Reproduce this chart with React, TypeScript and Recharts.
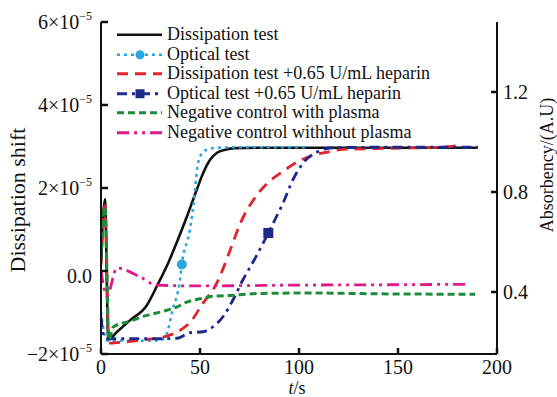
import { Line, LineChart, XAxis, YAxis } from "recharts"

// t (s) and dissipation shift / absorbency
const dissTime = [0, 2, 3.7, 8, 14.6, 23.1, 28.9, 34, 38.2, 43.3, 48.3, 51.5, 55.1, 58.6, 62.6, 67.7, 80, 120, 160, 190]
const dissShift = [0.2e-5, 1.73e-5, -1.65e-5, -1.47e-5, -1.19e-5, -0.83e-5, -0.3e-5, 0.2e-5, 0.68e-5, 1.3e-5, 1.95e-5, 2.35e-5, 2.68e-5, 2.85e-5, 2.92e-5, 2.96e-5, 2.97e-5, 2.97e-5, 2.97e-5, 2.97e-5]

const optTime = [0, 1.5, 3.5, 10, 20, 30, 33, 36.2, 39.9, 40.8, 44.9, 47.4, 48.3, 50, 53.4, 58.4, 70, 90, 105]
const optAbs = [0.32, 0.24, 0.205, 0.205, 0.205, 0.207, 0.229, 0.329, 0.449, 0.51, 0.649, 0.797, 0.877, 0.941, 0.969, 0.977, 0.979, 0.979, 0.979]
const optMarkerAt = 40.8

const hepTime = [0, 2, 4, 9.6, 23.1, 33.2, 39.9, 44.9, 51.5, 58.4, 65.2, 70.2, 73.5, 76.8, 80.2, 83.7, 91.9, 98.8, 107.1, 113.8, 122.2, 151, 171, 182.3]
const hepShift = [0.14e-5, 1.58e-5, -1.74e-5, -1.72e-5, -1.65e-5, -1.57e-5, -1.43e-5, -1.24e-5, -0.78e-5, -0.3e-5, 0.5e-5, 1.13e-5, 1.45e-5, 1.7e-5, 1.92e-5, 2.1e-5, 2.4e-5, 2.62e-5, 2.79e-5, 2.86e-5, 2.93e-5, 2.96e-5, 2.98e-5, 3.04e-5]

const optHepTime = [0, 1.5, 3.5, 10, 20, 30, 38.4, 44.9, 51.5, 56.6, 61.6, 66.7, 71.7, 76.8, 84.5, 87.9, 91.9, 97, 102, 109.1, 117.2, 140, 170, 190.4]
const optHepAbs = [0.3, 0.22, 0.213, 0.213, 0.213, 0.213, 0.215, 0.237, 0.241, 0.261, 0.301, 0.369, 0.449, 0.52, 0.636, 0.69, 0.755, 0.85, 0.915, 0.96, 0.977, 0.979, 0.979, 0.979]
const optHepMarkerAt = 84.5

const negPlasmaTime = [0, 2, 4, 6.2, 14.6, 23.1, 31.5, 38.2, 43.3, 50, 56.6, 65, 81.3, 106.6, 140, 189]
const negPlasmaShift = [0.25e-5, 1.54e-5, -1.65e-5, -1.35e-5, -1.21e-5, -1.07e-5, -0.97e-5, -0.87e-5, -0.75e-5, -0.67e-5, -0.61e-5, -0.59e-5, -0.54e-5, -0.53e-5, -0.55e-5, -0.56e-5]

const negNoPlasmaTime = [0, 3, 8, 19.7, 28, 50, 100, 150, 185]
const negNoPlasmaShift = [0, -0.6e-5, 0.07e-5, -0.14e-5, -0.34e-5, -0.36e-5, -0.34e-5, -0.33e-5, -0.32e-5]

const xTicks = [0, 50, 100, 150, 200]
const leftTicks = [-2e-5, 0, 2e-5, 4e-5, 6e-5]
const rightTicks = [0.4, 0.8, 1.2]

const zip = (t: number[], v: number[]) => t.map((x, i) => ({ t: x, v: v[i] }))

const FONT = "'Liberation Serif', 'Times New Roman', serif"
const INK = "#111"

const series = [
    { name: "Dissipation test", color: "#111111", dash: undefined, width: 2.6, marker: null },
    { name: "Optical test", color: "#2aa6e0", dash: "3 4", width: 2.6, marker: "circle" },
    { name: "Dissipation test +0.65 U/mL heparin", color: "#e3232b", dash: "11 7", width: 2.8, marker: null },
    { name: "Optical test +0.65 U/mL heparin", color: "#1d2a8a", dash: "10 5 3 5", width: 2.8, marker: "square" },
    { name: "Negative control with plasma", color: "#1c8c3a", dash: "7 4", width: 3, marker: null },
    { name: "Negative control withhout plasma", color: "#e0198a", dash: "12 5 3 5 3 5", width: 2.8, marker: null },
]

// ticks point inward, so each tick draws its own mark next to the label
const LeftTick = ({ x, y, payload }: any) => {
    const v = payload.value
    const m = Math.round(v / 1e-5)
    return (
        <g>
            <line x1={x + 9} x2={x + 16} y1={y} y2={y} stroke={INK} strokeWidth={2.5} />
            {v === 0 ? (
                <text x={x} y={y + 5} dy="0.35em" textAnchor="end" fontSize={20} fontFamily={FONT} fill={INK}>
                    0.0
                </text>
            ) : (
                <text x={x} y={y} dy="0.35em" textAnchor="end" fontSize={20} fontFamily={FONT} fill={INK}>
                    <tspan>{m < 0 ? "\u2212" : ""}{Math.abs(m)}×10</tspan>
                    <tspan dy={-9} fontSize={12}>{"\u2212"}5</tspan>
                </text>
            )}
        </g>
    )
}

const RightTick = ({ x, y, payload }: any) => (
    <g>
        <line x1={x - 6} x2={x - 12} y1={y} y2={y} stroke={INK} strokeWidth={2.5} />
        <text x={x} y={y} dy="0.35em" textAnchor="start" fontSize={20} fontFamily={FONT} fill={INK}>
            {Number(payload.value).toFixed(1)}
        </text>
    </g>
)

const BottomTick = ({ x, y, payload }: any) => (
    <g>
        <line x1={x} x2={x} y1={y - 8} y2={y - 14} stroke={INK} strokeWidth={2.5} />
        <text x={x} y={y} dy="0.58em" textAnchor="middle" fontSize={20} fontFamily={FONT} fill={INK}>
            {payload.value}
        </text>
    </g>
)

const markerDot = (at: number, times: number[], color: string, kind: string) => (p: any) => {
    if (p.index !== times.indexOf(at)) return <g key={`d${p.index}`} />
    if (kind === "circle") return <circle key={`d${p.index}`} cx={p.cx} cy={p.cy} r={5} fill={color} />
    return <rect key={`d${p.index}`} x={p.cx - 5} y={p.cy - 5} width={10} height={10} fill={color} />
}

const LegendSample = ({ s }: { s: (typeof series)[number] }) => (
    <svg width={48} height={19.5} style={{ display: "block" }}>
        <line x1={2} x2={47} y1={9.75} y2={9.75} stroke={s.color} strokeWidth={s.width} strokeDasharray={s.dash} />
        {s.marker === "circle" && <circle cx={25} cy={9.75} r={4.5} fill={s.color} />}
        {s.marker === "square" && <rect x={20.5} y={5.25} width={9} height={9} fill={s.color} />}
    </svg>
)

const App = () => {
    const lineData = [
        zip(dissTime, dissShift),
        zip(optTime, optAbs),
        zip(hepTime, hepShift),
        zip(optHepTime, optHepAbs),
        zip(negPlasmaTime, negPlasmaShift),
        zip(negNoPlasmaTime, negNoPlasmaShift),
    ]
    const axisOf = ["left", "right", "left", "right", "left", "left"]
    const dots = [
        false,
        markerDot(optMarkerAt, optTime, series[1].color, "circle"),
        false,
        markerDot(optHepMarkerAt, optHepTime, series[3].color, "square"),
        false,
        false,
    ]

    return (
        <div style={{ position: "absolute", left: 0, top: 0, width: 557, height: 397, background: "#fff", fontFamily: FONT }}>
            <LineChart width={557} height={397} margin={{ top: 22, right: 0, left: 0, bottom: 0 }}>
                <XAxis
                    xAxisId={0}
                    type="number"
                    dataKey="t"
                    domain={[0, 200]}
                    ticks={xTicks}
                    allowDataOverflow
                    height={43}
                    axisLine={{ stroke: INK, strokeWidth: 2 }}
                    tickLine={false}
                    tickSize={0}
                    tickMargin={8}
                    tick={<BottomTick />}
                    label={(props: any) => {
                        const vb = props.viewBox
                        return (
                            <text x={vb.x + vb.width / 2 - 2} y={394} textAnchor="middle" fontSize={18} fontFamily={FONT} fill={INK}>
                                <tspan fontStyle="italic">t</tspan>/s
                            </text>
                        )
                    }}
                />
                <XAxis
                    xAxisId="top"
                    orientation="top"
                    type="number"
                    dataKey="t"
                    domain={[0, 200]}
                    height={0}
                    tick={false}
                    tickLine={false}
                    axisLine={{ stroke: INK, strokeWidth: 2 }}
                />
                <YAxis
                    yAxisId="left"
                    type="number"
                    domain={[-2e-5, 6e-5]}
                    ticks={leftTicks}
                    allowDataOverflow
                    width={101}
                    axisLine={{ stroke: INK, strokeWidth: 2 }}
                    tickLine={false}
                    tickSize={0}
                    tickMargin={9}
                    tick={<LeftTick />}
                    label={(props: any) => {
                        const vb = props.viewBox
                        const cx = vb.x + 17
                        const cy = vb.y + vb.height / 2 + 12
                        return (
                            <text x={cx} y={cy} transform={`rotate(-90, ${cx}, ${cy})`} textAnchor="middle" dominantBaseline="central" fontSize={22} fontFamily={FONT} fill={INK}>
                                Dissipation shift
                            </text>
                        )
                    }}
                />
                <YAxis
                    yAxisId="right"
                    orientation="right"
                    type="number"
                    domain={[0.152, 1.48]}
                    ticks={rightTicks}
                    allowDataOverflow
                    width={60}
                    axisLine={{ stroke: INK, strokeWidth: 2 }}
                    tickLine={false}
                    tickSize={0}
                    tickMargin={6}
                    tick={<RightTick />}
                    label={(props: any) => {
                        const vb = props.viewBox
                        const cx = vb.x + 50
                        const cy = vb.y + vb.height / 2 - 23
                        return (
                            <text x={cx} y={cy} transform={`rotate(-90, ${cx}, ${cy})`} textAnchor="middle" dominantBaseline="central" fontSize={18} fontFamily={FONT} fill={INK}>
                                Absorbency/(A.U)
                            </text>
                        )
                    }}
                />
                {series.map((s, i) => (
                    <Line
                        key={s.name}
                        name={s.name}
                        data={lineData[i]}
                        dataKey="v"
                        xAxisId={0}
                        yAxisId={axisOf[i]}
                        type="monotone"
                        stroke={s.color}
                        strokeWidth={s.width}
                        strokeDasharray={s.dash}
                        dot={dots[i] as any}
                        activeDot={false}
                        isAnimationActive={false}
                    />
                ))}
            </LineChart>
            <div style={{ position: "absolute", left: 115, top: 25, fontSize: 18, color: INK }}>
                {series.map((s) => (
                    <div key={s.name} style={{ display: "flex", alignItems: "center", height: 19.5, lineHeight: "19.5px", whiteSpace: "nowrap" }}>
                        <LegendSample s={s} />
                        <span style={{ marginLeft: 4 }}>{s.name}</span>
                    </div>
                ))}
            </div>
        </div>
    )
}

export default App
